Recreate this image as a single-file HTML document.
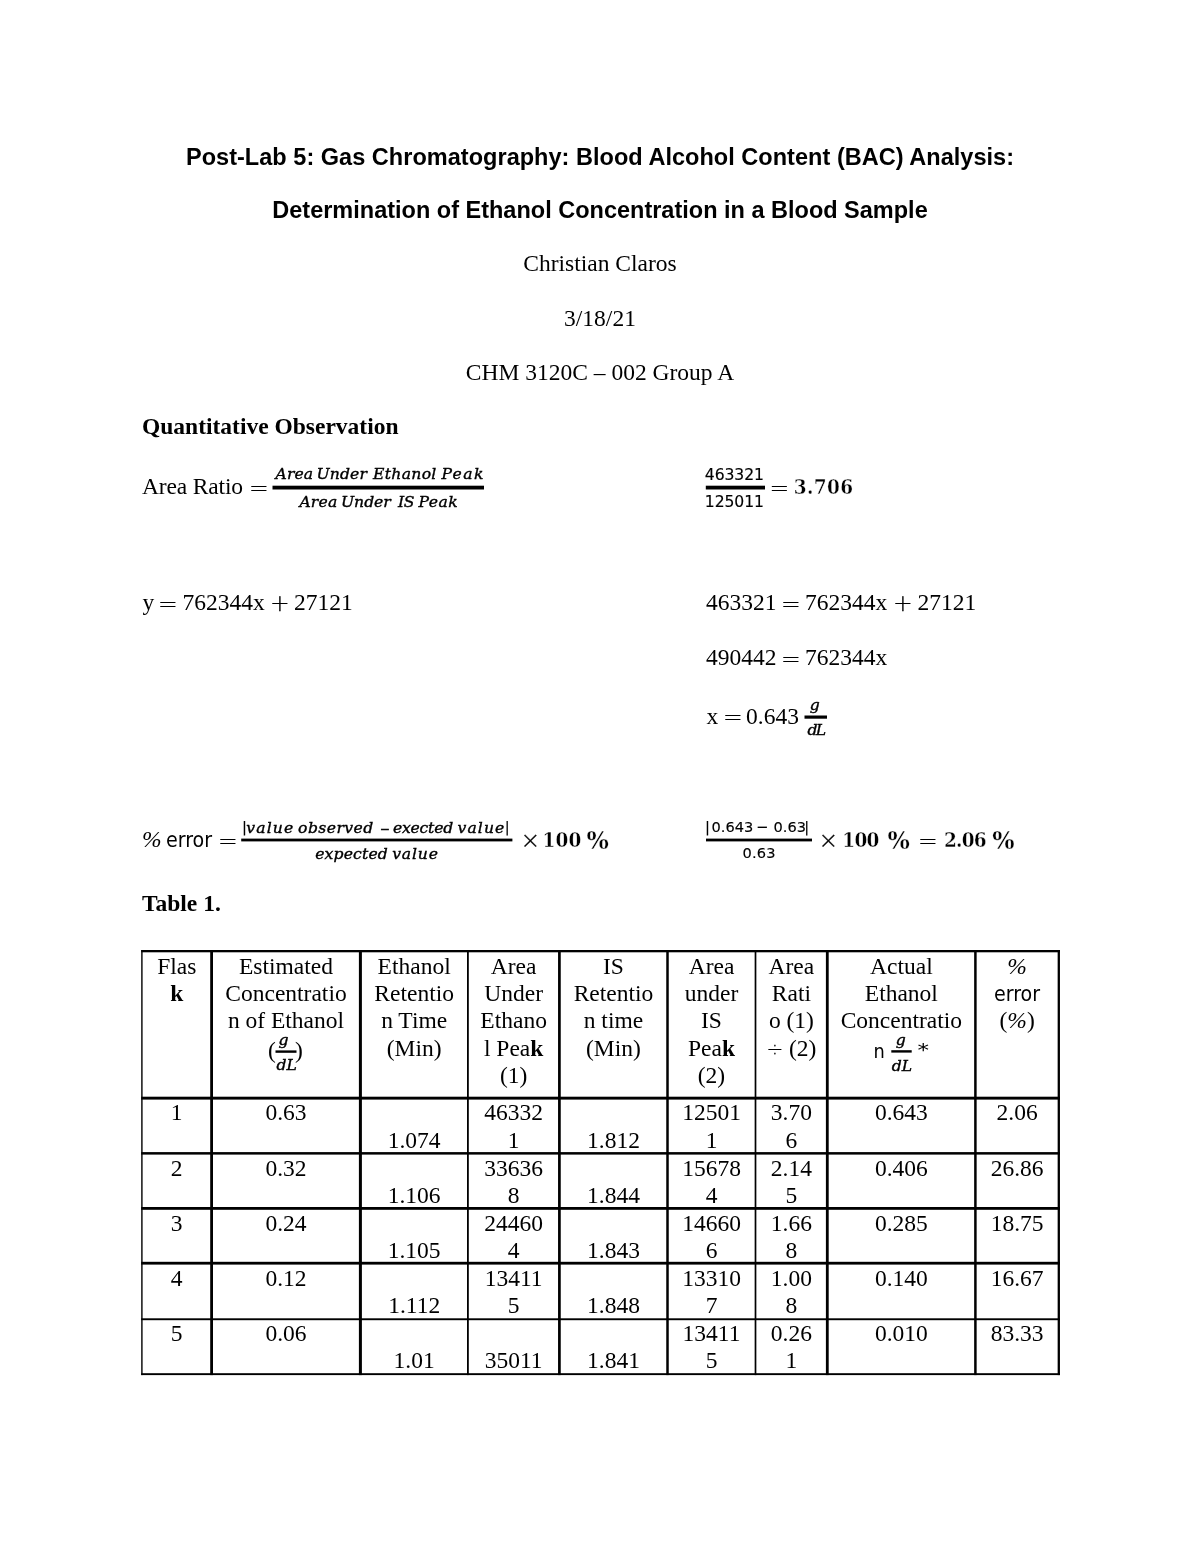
<!DOCTYPE html>
<html><head><meta charset="utf-8"><title>Post-Lab 5</title>
<style>
html,body{margin:0;padding:0;background:#fff;}
body{width:1200px;height:1553px;position:relative;overflow:hidden;color:#000;font-family:"Liberation Serif",serif;font-size:23.5px;}
.l{position:absolute;white-space:nowrap;line-height:1;}
.c{left:0;width:1200px;text-align:center;}
.h{font-family:"Liberation Sans",sans-serif;font-weight:bold;}
.b{font-weight:bold;}
.i{font-style:italic;}
.m{font-family:"DejaVu Serif",serif;font-style:italic;font-size:15.6px;-webkit-text-stroke:0.4px #000;}
.n{font-family:"DejaVu Sans",sans-serif;font-size:15.6px;-webkit-text-stroke:0.15px #000;}
.mm{font-family:"DejaVu Serif",serif;font-style:italic;font-size:12px;-webkit-text-stroke:0.4px #000;}
.n2{font-family:"DejaVu Sans",sans-serif;font-size:14.6px;-webkit-text-stroke:0.15px #000;}
.s{font-family:"DejaVu Sans",sans-serif;font-stretch:condensed;font-size:21.2px;}
.o{font-family:"DejaVu Sans Light","DejaVu Sans",sans-serif;font-weight:200;font-size:23.5px;-webkit-text-stroke:0.3px #000;}
.mb{font-family:"DejaVu Serif",serif;font-weight:bold;font-stretch:condensed;font-size:20.5px;-webkit-text-stroke:0.35px #fff;}
.dv{font-family:"DejaVu Sans Light","DejaVu Sans",sans-serif;font-weight:200;font-size:20px;-webkit-text-stroke:0.3px #000;}
.pb{font-family:"DejaVu Serif",serif;font-weight:bold;font-size:23.5px;-webkit-text-stroke:0.35px #fff;}
.r{position:absolute;background:#000;}
.t{position:absolute;white-space:nowrap;line-height:1;text-align:center;}
</style></head><body>
<div class="l c h" style="top:146px;"><span id="ti1" style="letter-spacing:0.03px">Post-Lab 5: Gas Chromatography: Blood Alcohol Content (BAC) Analysis:</span></div>
<div class="l c h" style="top:199px;"><span id="ti2">Determination of Ethanol Concentration in a Blood Sample</span></div>
<div class="l c" style="top:252.4px;"><span id="ti3">Christian Claros</span></div>
<div class="l c" style="top:307px;"><span id="ti4">3/18/21</span></div>
<div class="l c" style="top:360.9px;"><span id="ti5">CHM 3120C – 002 Group A</span></div>
<div class="l b" id="qo" style="top:415px;left:142px;">Quantitative Observation</div>
<div class="l " id="ar" style="top:475px;left:142px;letter-spacing:-0.15px;">Area Ratio</div>
<div class="l o" id="ar_eq" style="top:476.5px;left:249px;">=</div>
<span class="l m" id="ar_num0" style="left:275.6px;top:467.4px;letter-spacing:0.07px">Area</span> <span class="l m" id="ar_num1" style="left:316.6px;top:467.4px;letter-spacing:0.12px">Under</span> <span class="l m" id="ar_num2" style="left:373.0px;top:467.4px;letter-spacing:0.32px">Ethanol</span> <span class="l m" id="ar_num3" style="left:441.4px;top:467.4px;letter-spacing:1.43px">Peak</span>
<span class="l m" id="ar_den0" style="left:299.4px;top:495px;letter-spacing:0.20px">Area</span> <span class="l m" id="ar_den1" style="left:341.0px;top:495px;letter-spacing:-0.03px">Under</span> <span class="l m" id="ar_den2" style="left:398.0px;top:495px;letter-spacing:-0.40px">IS</span> <span class="l m" id="ar_den3" style="left:418.5px;top:495px;letter-spacing:0.50px">Peak</span>
<span class="l n" id="f2_num0" style="left:704.8px;top:467.6px;letter-spacing:-0.08px">463321</span>
<span class="l n" id="f2_den0" style="left:704.8px;top:494.7px;letter-spacing:-0.08px">125011</span>
<div class="l o" id="f2_eq" style="top:476.5px;left:769.5px;">=</div>
<div class="l mb" id="f2_res" style="top:476.7px;left:793.8px;letter-spacing:0.4px;">3.706</div>
<div class="l " id="y1" style="top:591px;left:142.5px;">y</div>
<div class="l o" id="y1_eq" style="top:592.5px;left:158px;">=</div>
<div class="l " id="y1_a" style="top:591px;left:182.5px;">762344x</div>
<div class="l o" id="y1_plus" style="top:592px;left:270px;">+</div>
<div class="l " id="y1_b" style="top:591px;left:294px;">27121</div>
<div class="l " id="e1_a" style="top:591px;left:706px;">463321</div>
<div class="l o" id="e1_eq" style="top:592.5px;left:781px;">=</div>
<div class="l " id="e1_b" style="top:591px;left:805px;">762344x</div>
<div class="l o" id="e1_plus" style="top:592px;left:893px;">+</div>
<div class="l " id="e1_c" style="top:591px;left:917.5px;">27121</div>
<div class="l " id="e2_a" style="top:646px;left:706px;">490442</div>
<div class="l o" id="e2_eq" style="top:647.5px;left:781px;">=</div>
<div class="l " id="e2_b" style="top:646px;left:805px;">762344x</div>
<div class="l " id="e3_x" style="top:704.7px;left:706.5px;">x</div>
<div class="l o" id="e3_eq" style="top:706px;left:723px;">=</div>
<div class="l " id="e3_v" style="top:704.7px;left:746px;">0.643</div>
<span class="l m" id="e3_g0" style="left:809.8px;top:698.3px;letter-spacing:0.00px">g</span>
<span class="l m" id="e3_dl0" style="left:807.5px;top:723px;letter-spacing:-1.80px">dL</span>
<div class="l i" id="pe_pct" style="top:828px;left:142px;">%</div>
<div class="l s" id="pe_err" style="top:829px;left:166px;">error</div>
<div class="l o" id="pe_eq" style="top:830px;left:218px;">=</div>
<span class="l n2" id="pe_num0" style="left:242.0px;top:820.3px;letter-spacing:0.00px">|</span><span class="l m" id="pe_num1" style="left:246.3px;top:820.5px;letter-spacing:1.12px">value</span> <span class="l m" id="pe_num2" style="left:298.1px;top:820.5px;letter-spacing:0.44px">observed</span> <span class="l mm" id="pe_num3" style="left:379.8px;top:823px;letter-spacing:0.00px">−</span> <span class="l m" id="pe_num4" style="left:392.9px;top:820.5px;letter-spacing:-0.20px">exected</span> <span class="l m" id="pe_num5" style="left:457.5px;top:820.5px;letter-spacing:1.12px">value</span><span class="l n2" id="pe_num6" style="left:504.8px;top:820.3px;letter-spacing:0.00px">|</span>
<span class="l m" id="pe_den0" style="left:315.2px;top:847px;letter-spacing:0.16px">expected</span> <span class="l m" id="pe_den1" style="left:392.2px;top:847px;letter-spacing:0.83px">value</span>
<div class="l o" id="pe_x" style="top:829px;left:520.5px;">×</div>
<div class="l mb" id="pe_100" style="top:830px;left:542.6px;letter-spacing:0.1px;">100</div>
<div class="l pb" id="pe_p2" style="top:829.6px;left:586.5px;">%</div>
<span class="l n2" id="pr_num0" style="left:705.0px;top:820.3px;letter-spacing:0.00px">|</span><span class="l n2" id="pr_num1" style="left:711.5px;top:820.3px;letter-spacing:0.00px">0.643</span> <span class="l n2" id="pr_num2" style="left:756.0px;top:820.3px;letter-spacing:0.00px">−</span> <span class="l n2" id="pr_num3" style="left:773.5px;top:820.3px;letter-spacing:0.00px">0.63</span><span class="l n2" id="pr_num4" style="left:804.2px;top:820.3px;letter-spacing:0.00px">|</span>
<span class="l n2" id="pr_den0" style="left:742.5px;top:845.6px;letter-spacing:0.17px">0.63</span>
<div class="l o" id="pr_x" style="top:829px;left:818.5px;">×</div>
<div class="l mb" id="pr_100" style="top:830px;left:842.3px;letter-spacing:-0.7px;">100</div>
<div class="l pb" id="pr_p" style="top:829.6px;left:887.4px;">%</div>
<div class="l o" id="pr_eq" style="top:830px;left:918px;">=</div>
<div class="l mb" id="pr_res" style="top:830px;left:943.9px;letter-spacing:-0.7px;">2.06</div>
<div class="l pb" id="pr_p2" style="top:829.6px;left:992.2px;">%</div>
<div class="l b" id="t1" style="top:892px;left:142px;">Table 1.</div>
<div class="t " id="h0_0" style="left:141.9px;width:69.69999999999999px;top:955px">Flas</div>
<div class="t " id="h0_1" style="left:141.9px;width:69.69999999999999px;top:982px"><b>k</b></div>
<div class="t " id="h1_0" style="left:211.6px;width:148.79999999999998px;top:955px">Estimated</div>
<div class="t " id="h1_1" style="left:211.6px;width:148.79999999999998px;top:982px">Concentratio</div>
<div class="t " id="h1_2" style="left:211.6px;width:148.79999999999998px;top:1009px">n of Ethanol</div>
<div class="t " id="h2_0" style="left:360.4px;width:107.5px;top:955px">Ethanol</div>
<div class="t " id="h2_1" style="left:360.4px;width:107.5px;top:982px">Retentio</div>
<div class="t " id="h2_2" style="left:360.4px;width:107.5px;top:1009px">n Time</div>
<div class="t " id="h2_3" style="left:360.4px;width:107.5px;top:1037px">(Min)</div>
<div class="t " id="h3_0" style="left:467.9px;width:91.5px;top:955px">Area</div>
<div class="t " id="h3_1" style="left:467.9px;width:91.5px;top:982px">Under</div>
<div class="t " id="h3_2" style="left:467.9px;width:91.5px;top:1009px">Ethano</div>
<div class="t " id="h3_3" style="left:467.9px;width:91.5px;top:1037px">l Pea<b>k</b></div>
<div class="t " id="h3_4" style="left:467.9px;width:91.5px;top:1064px">(1)</div>
<div class="t " id="h4_0" style="left:559.4px;width:108.10000000000002px;top:955px">IS</div>
<div class="t " id="h4_1" style="left:559.4px;width:108.10000000000002px;top:982px">Retentio</div>
<div class="t " id="h4_2" style="left:559.4px;width:108.10000000000002px;top:1009px">n time</div>
<div class="t " id="h4_3" style="left:559.4px;width:108.10000000000002px;top:1037px">(Min)</div>
<div class="t " id="h5_0" style="left:667.5px;width:88.0px;top:955px">Area</div>
<div class="t " id="h5_1" style="left:667.5px;width:88.0px;top:982px">under</div>
<div class="t " id="h5_2" style="left:667.5px;width:88.0px;top:1009px">IS</div>
<div class="t " id="h5_3" style="left:667.5px;width:88.0px;top:1037px">Pea<b>k</b></div>
<div class="t " id="h5_4" style="left:667.5px;width:88.0px;top:1064px">(2)</div>
<div class="t " id="h6_0" style="left:755.5px;width:71.79999999999995px;top:955px">Area</div>
<div class="t " id="h6_1" style="left:755.5px;width:71.79999999999995px;top:982px">Rati</div>
<div class="t " id="h6_2" style="left:755.5px;width:71.79999999999995px;top:1009px">o (1)</div>
<div class="t " id="h6_3" style="left:755.5px;width:71.79999999999995px;top:1037px"><span class="dv">÷</span> (2)</div>
<div class="t " id="h7_0" style="left:827.3px;width:148.10000000000002px;top:955px">Actual</div>
<div class="t " id="h7_1" style="left:827.3px;width:148.10000000000002px;top:982px">Ethanol</div>
<div class="t " id="h7_2" style="left:827.3px;width:148.10000000000002px;top:1009px">Concentratio</div>
<div class="t " id="h8_0" style="left:975.4px;width:83.39999999999998px;top:955px"><span class="i">%</span></div>
<div class="t " id="h8_1" style="left:975.4px;width:83.39999999999998px;top:982px"><span class="s">error</span></div>
<div class="t " id="h8_2" style="left:975.4px;width:83.39999999999998px;top:1009px">(<span class="i">%</span>)</div>
<div class="l " id="hf1_l" style="top:1038.5px;left:268px;">(</div>
<span class="l m" id="hf1_g0" style="left:278.5px;top:1032.5px;letter-spacing:0.00px">g</span>
<span class="l m" id="hf1_dl0" style="left:276.5px;top:1058.3px;letter-spacing:0.00px">dL</span>
<div class="l " id="hf1_r" style="top:1038.5px;left:295px;">)</div>
<div class="l s" id="hf7_n" style="top:1041.5px;left:873.5px;font-size:19.8px;">n</div>
<span class="l m" id="hf7_g0" style="left:895.7px;top:1032.7px;letter-spacing:0.00px">g</span>
<span class="l m" id="hf7_dl0" style="left:891.7px;top:1059px;letter-spacing:0.10px">dL</span>
<div class="l " id="hf7_s" style="top:1042px;left:917.5px;font-family:'DejaVu Sans',sans-serif;font-size:23px;transform:scaleY(0.75);transform-origin:0 0;">*</div>
<div class="t " id="d0_0" style="left:141.9px;width:69.69999999999999px;top:1101px">1</div>
<div class="t " id="d0_1" style="left:211.6px;width:148.79999999999998px;top:1101px">0.63</div>
<div class="t " id="d0_2" style="left:360.4px;width:107.5px;top:1129px">1.074</div>
<div class="t " id="d0_3a" style="left:467.9px;width:91.5px;top:1101px">46332</div>
<div class="t " id="d0_3b" style="left:467.9px;width:91.5px;top:1129px">1</div>
<div class="t " id="d0_4" style="left:559.4px;width:108.10000000000002px;top:1129px">1.812</div>
<div class="t " id="d0_5a" style="left:667.5px;width:88.0px;top:1101px">12501</div>
<div class="t " id="d0_5b" style="left:667.5px;width:88.0px;top:1129px">1</div>
<div class="t " id="d0_6a" style="left:755.5px;width:71.79999999999995px;top:1101px">3.70</div>
<div class="t " id="d0_6b" style="left:755.5px;width:71.79999999999995px;top:1129px">6</div>
<div class="t " id="d0_7" style="left:827.3px;width:148.10000000000002px;top:1101px">0.643</div>
<div class="t " id="d0_8" style="left:975.4px;width:83.39999999999998px;top:1101px">2.06</div>
<div class="t " id="d1_0" style="left:141.9px;width:69.69999999999999px;top:1157px">2</div>
<div class="t " id="d1_1" style="left:211.6px;width:148.79999999999998px;top:1157px">0.32</div>
<div class="t " id="d1_2" style="left:360.4px;width:107.5px;top:1184px">1.106</div>
<div class="t " id="d1_3a" style="left:467.9px;width:91.5px;top:1157px">33636</div>
<div class="t " id="d1_3b" style="left:467.9px;width:91.5px;top:1184px">8</div>
<div class="t " id="d1_4" style="left:559.4px;width:108.10000000000002px;top:1184px">1.844</div>
<div class="t " id="d1_5a" style="left:667.5px;width:88.0px;top:1157px">15678</div>
<div class="t " id="d1_5b" style="left:667.5px;width:88.0px;top:1184px">4</div>
<div class="t " id="d1_6a" style="left:755.5px;width:71.79999999999995px;top:1157px">2.14</div>
<div class="t " id="d1_6b" style="left:755.5px;width:71.79999999999995px;top:1184px">5</div>
<div class="t " id="d1_7" style="left:827.3px;width:148.10000000000002px;top:1157px">0.406</div>
<div class="t " id="d1_8" style="left:975.4px;width:83.39999999999998px;top:1157px">26.86</div>
<div class="t " id="d2_0" style="left:141.9px;width:69.69999999999999px;top:1212px">3</div>
<div class="t " id="d2_1" style="left:211.6px;width:148.79999999999998px;top:1212px">0.24</div>
<div class="t " id="d2_2" style="left:360.4px;width:107.5px;top:1239px">1.105</div>
<div class="t " id="d2_3a" style="left:467.9px;width:91.5px;top:1212px">24460</div>
<div class="t " id="d2_3b" style="left:467.9px;width:91.5px;top:1239px">4</div>
<div class="t " id="d2_4" style="left:559.4px;width:108.10000000000002px;top:1239px">1.843</div>
<div class="t " id="d2_5a" style="left:667.5px;width:88.0px;top:1212px">14660</div>
<div class="t " id="d2_5b" style="left:667.5px;width:88.0px;top:1239px">6</div>
<div class="t " id="d2_6a" style="left:755.5px;width:71.79999999999995px;top:1212px">1.66</div>
<div class="t " id="d2_6b" style="left:755.5px;width:71.79999999999995px;top:1239px">8</div>
<div class="t " id="d2_7" style="left:827.3px;width:148.10000000000002px;top:1212px">0.285</div>
<div class="t " id="d2_8" style="left:975.4px;width:83.39999999999998px;top:1212px">18.75</div>
<div class="t " id="d3_0" style="left:141.9px;width:69.69999999999999px;top:1267px">4</div>
<div class="t " id="d3_1" style="left:211.6px;width:148.79999999999998px;top:1267px">0.12</div>
<div class="t " id="d3_2" style="left:360.4px;width:107.5px;top:1294px">1.112</div>
<div class="t " id="d3_3a" style="left:467.9px;width:91.5px;top:1267px">13411</div>
<div class="t " id="d3_3b" style="left:467.9px;width:91.5px;top:1294px">5</div>
<div class="t " id="d3_4" style="left:559.4px;width:108.10000000000002px;top:1294px">1.848</div>
<div class="t " id="d3_5a" style="left:667.5px;width:88.0px;top:1267px">13310</div>
<div class="t " id="d3_5b" style="left:667.5px;width:88.0px;top:1294px">7</div>
<div class="t " id="d3_6a" style="left:755.5px;width:71.79999999999995px;top:1267px">1.00</div>
<div class="t " id="d3_6b" style="left:755.5px;width:71.79999999999995px;top:1294px">8</div>
<div class="t " id="d3_7" style="left:827.3px;width:148.10000000000002px;top:1267px">0.140</div>
<div class="t " id="d3_8" style="left:975.4px;width:83.39999999999998px;top:1267px">16.67</div>
<div class="t " id="d4_0" style="left:141.9px;width:69.69999999999999px;top:1322px">5</div>
<div class="t " id="d4_1" style="left:211.6px;width:148.79999999999998px;top:1322px">0.06</div>
<div class="t " id="d4_2" style="left:360.4px;width:107.5px;top:1349px">1.01</div>
<div class="t " id="d4_3" style="left:467.9px;width:91.5px;top:1349px">35011</div>
<div class="t " id="d4_4" style="left:559.4px;width:108.10000000000002px;top:1349px">1.841</div>
<div class="t " id="d4_5a" style="left:667.5px;width:88.0px;top:1322px">13411</div>
<div class="t " id="d4_5b" style="left:667.5px;width:88.0px;top:1349px">5</div>
<div class="t " id="d4_6a" style="left:755.5px;width:71.79999999999995px;top:1322px">0.26</div>
<div class="t " id="d4_6b" style="left:755.5px;width:71.79999999999995px;top:1349px">1</div>
<div class="t " id="d4_7" style="left:827.3px;width:148.10000000000002px;top:1322px">0.010</div>
<div class="t " id="d4_8" style="left:975.4px;width:83.39999999999998px;top:1322px">83.33</div>
<svg width="1200" height="1553" viewBox="0 0 1200 1553" style="position:absolute;left:0;top:0;pointer-events:none" fill="#000">
<rect x="272.5" y="485.7" width="211.5" height="3.8"/>
<rect x="705.8" y="485.7" width="59.2" height="3.8"/>
<rect x="804.5" y="715.5" width="22.5" height="3.2"/>
<rect x="241.2" y="838.6" width="271.2" height="2.8"/>
<rect x="706" y="838.6" width="106" height="2.8"/>
<rect x="141.2" y="950.0" width="1.4" height="425.1"/>
<rect x="210.2" y="950.0" width="2.8" height="425.1"/>
<rect x="358.9" y="950.0" width="3.0" height="425.1"/>
<rect x="467.0" y="950.0" width="1.8" height="425.1"/>
<rect x="558.05" y="950.0" width="2.7" height="425.1"/>
<rect x="666.25" y="950.0" width="2.5" height="425.1"/>
<rect x="754.65" y="950.0" width="1.7" height="425.1"/>
<rect x="825.9" y="950.0" width="2.8" height="425.1"/>
<rect x="974.15" y="950.0" width="2.5" height="425.1"/>
<rect x="1057.65" y="950.0" width="2.3" height="425.1"/>
<rect x="141.2" y="950.0" width="918.75" height="2.3"/>
<rect x="141.2" y="1096.7" width="918.75" height="2.9"/>
<rect x="141.2" y="1152.1" width="918.75" height="2.5"/>
<rect x="141.2" y="1207.0" width="918.75" height="2.8"/>
<rect x="141.2" y="1261.8" width="918.75" height="2.8"/>
<rect x="141.2" y="1318.3" width="918.75" height="1.9"/>
<rect x="141.2" y="1373.2" width="918.75" height="1.9"/>
<rect x="275.5" y="1050.4" width="21.0" height="2.4"/>
<rect x="891.3" y="1050.2" width="20.4" height="2.4"/>
</svg>
</body></html>
